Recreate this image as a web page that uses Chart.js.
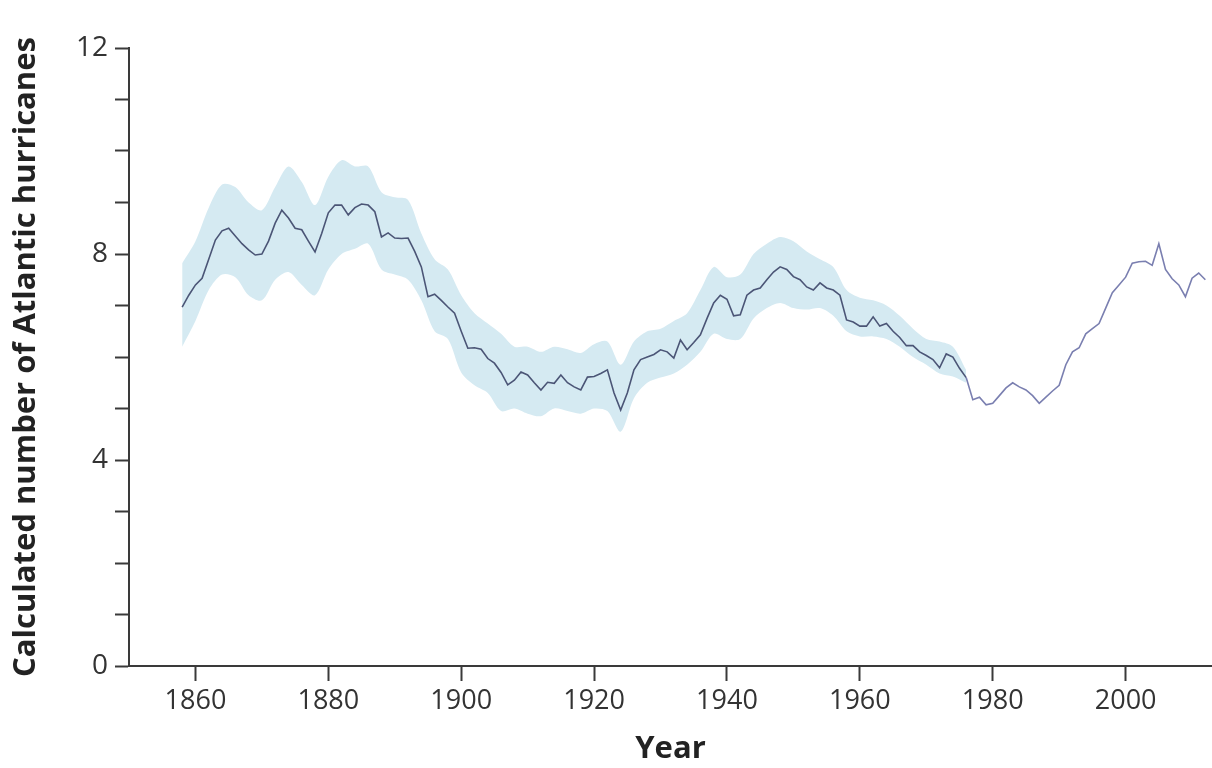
<!DOCTYPE html>
<html>
<head>
<meta charset="utf-8">
<script src="https://cdn.jsdelivr.net/npm/chart.js@4.4.1/dist/chart.umd.min.js"></script>
<style>
  html, body { margin: 0; padding: 0; background: #fff; }
  #wrap { width: 1212px; height: 768px; }
</style>
</head>
<body>
<div id="wrap"><canvas id="myChart" width="1212" height="768"></canvas></div>
<script>
// yearly calculated number of hurricanes
const firstYear = 1858;
const hurricanes = [
  6.97, 7.2, 7.4, 7.53, 7.9, 8.27, 8.45, 8.5, 8.35, 8.2,     // 1858-1867
  8.08, 7.98, 8.0, 8.25, 8.6, 8.85, 8.7, 8.5, 8.47, 8.25,    // 1868-1877
  8.04, 8.4, 8.8, 8.95, 8.95, 8.76, 8.9, 8.97, 8.95, 8.82,   // 1878-1887
  8.33, 8.41, 8.31, 8.3, 8.31, 8.05, 7.75, 7.17, 7.22, 7.1,  // 1888-1897
  6.97, 6.85, 6.5, 6.17, 6.18, 6.15, 5.97, 5.88, 5.7, 5.46,  // 1898-1907
  5.55, 5.71, 5.65, 5.5, 5.36, 5.51, 5.49, 5.65, 5.5, 5.42,  // 1908-1917
  5.36, 5.61, 5.62, 5.68, 5.75, 5.3, 4.97, 5.3, 5.75, 5.95,  // 1918-1927
  6.0, 6.05, 6.14, 6.1, 5.98, 6.33, 6.14, 6.28, 6.43, 6.75,  // 1928-1937
  7.05, 7.2, 7.12, 6.8, 6.82, 7.2, 7.3, 7.34, 7.5, 7.65,     // 1938-1947
  7.75, 7.7, 7.56, 7.5, 7.36, 7.3, 7.44, 7.34, 7.3, 7.2,     // 1948-1957
  6.72, 6.68, 6.6, 6.6, 6.78, 6.6, 6.65, 6.5, 6.38, 6.22,    // 1958-1967
  6.22, 6.1, 6.03, 5.95, 5.79, 6.06, 6.0, 5.78, 5.6, 5.17,   // 1968-1977
  5.22, 5.07, 5.1, 5.25, 5.4, 5.5, 5.42, 5.36, 5.25, 5.1,    // 1978-1987
  5.22, 5.34, 5.45, 5.85, 6.1, 6.18, 6.45, 6.55, 6.65, 6.95, // 1988-1997
  7.25, 7.4, 7.55, 7.82, 7.85, 7.86, 7.78, 8.2, 7.7, 7.52,   // 1998-2007
  7.4, 7.17, 7.53, 7.63, 7.5                                 // 2008-2012
];
const bandEndYear = 1976; // shaded uncertainty stops here

// uncertainty band, every second year 1858-1976
const bandYears = [];
for (let y = 1858; y <= 1976; y += 2) bandYears.push(y);
const bandUpper = [
  7.82, 8.25, 8.9, 9.35, 9.3, 9.0, 8.85, 9.3, 9.7, 9.4,
  8.95, 9.5, 9.82, 9.7, 9.7, 9.2, 9.1, 9.05, 8.4, 7.9,
  7.7, 7.2, 6.85, 6.65, 6.45, 6.2, 6.2, 6.1, 6.2, 6.15,
  6.08, 6.25, 6.3, 5.85, 6.3, 6.5, 6.55, 6.7, 6.85, 7.3,
  7.75, 7.55, 7.6, 8.0, 8.2, 8.33, 8.25, 8.05, 7.9, 7.75,
  7.3, 7.15, 7.1, 7.0, 6.8, 6.55, 6.35, 6.3, 6.2, 5.75
];
const bandLower = [
  6.2, 6.7, 7.3, 7.6, 7.55, 7.2, 7.1, 7.5, 7.65, 7.4,
  7.2, 7.7, 8.0, 8.1, 8.2, 7.7, 7.6, 7.5, 7.1, 6.5,
  6.35, 5.7, 5.45, 5.3, 4.95, 5.0, 4.9, 4.85, 5.0, 4.95,
  4.9, 5.0, 4.95, 4.55, 5.2, 5.5, 5.6, 5.68, 5.85, 6.1,
  6.45, 6.35, 6.35, 6.75, 6.95, 7.05, 6.95, 6.92, 6.95, 6.8,
  6.5, 6.4, 6.4, 6.35, 6.2, 6.0, 5.85, 5.68, 5.62, 5.5
];

const xTicks = [1860, 1880, 1900, 1920, 1940, 1960, 1980, 2000];
const yLabels = [0, 4, 8, 12];

function mainEvent() {
  const chartTarget = document.querySelector("#myChart");

  const linePoints = hurricanes.map((v, i) => ({ x: firstYear + i, y: v }));
  const upperPoints = bandYears.map((yr, i) => ({ x: yr, y: bandUpper[i] }));
  const lowerPoints = bandYears.map((yr, i) => ({ x: yr, y: bandLower[i] }));

  const data = {
    datasets: [
      {
        label: "hurricanes",
        data: linePoints,
        order: 0, // on top of the band
        borderColor: "#4b5576",
        borderWidth: 1.6,
        pointRadius: 0,
        fill: false,
        segment: {
          borderColor: (ctx) => ctx.p0.parsed.x >= bandEndYear ? "#7a7fb0" : "#4b5576"
        }
      },
      {
        label: "upper",
        data: upperPoints,
        order: 1,
        borderWidth: 0,
        pointRadius: 0,
        backgroundColor: "#d5eaf2",
        fill: "+1",
        tension: 0.3
      },
      {
        label: "lower",
        data: lowerPoints,
        order: 2,
        borderWidth: 0,
        pointRadius: 0,
        fill: false,
        tension: 0.3
      }
    ]
  };

  const config = {
    type: "line",
    data: data,
    options: {
      responsive: false,
      animation: false,
      layout: { padding: { top: 48, right: 0, left: 0, bottom: 0 } },
      plugins: {
        legend: { display: false },
        tooltip: { enabled: false }
      },
      scales: {
        x: {
          type: "linear",
          min: 1850,
          max: 2013,
          afterBuildTicks: (scale) => { scale.ticks = xTicks.map((v) => ({ value: v })); },
          afterFit: (scale) => { scale.height = 102; },
          grid: { display: true, drawOnChartArea: false, drawTicks: true, tickLength: 15, tickWidth: 2, color: "#3a3a3a" },
          border: { display: true, color: "#3a3a3a", width: 2 },
          ticks: {
            color: "#333",
            padding: 4,
            maxRotation: 0,
            font: { family: "'Open Sans', sans-serif", size: 27 },
            callback: (v) => String(v)
          },
          title: {
            display: true,
            text: "Year",
            color: "#222",
            padding: { top: 0, bottom: 0 },
            font: { family: "'Open Sans', sans-serif", size: 31, weight: "bold" }
          }
        },
        y: {
          min: 0,
          max: 12,
          afterBuildTicks: (scale) => {
            const t = [];
            for (let v = 0; v <= 12; v++) t.push({ value: v });
            scale.ticks = t;
          },
          afterFit: (scale) => { scale.width = 129; },
          grid: { display: true, drawOnChartArea: false, drawTicks: true, tickLength: 14, tickWidth: 2, color: "#3a3a3a" },
          border: { display: true, color: "#3a3a3a", width: 2 },
          ticks: {
            color: "#333",
            padding: 7,
            font: { family: "'Open Sans', sans-serif", size: 28 },
            callback: (v) => yLabels.includes(v) ? String(v) : ""
          },
          title: {
            display: true,
            text: "Calculated number of Atlantic hurricanes",
            color: "#222",
            padding: { top: 8, bottom: 8 },
            font: { family: "'Open Sans', sans-serif", size: 31, weight: "bold" }
          }
        }
      }
    }
  };

  return new Chart(chartTarget, config);
}

document.addEventListener("DOMContentLoaded", () => mainEvent());
</script>
</body>
</html>
